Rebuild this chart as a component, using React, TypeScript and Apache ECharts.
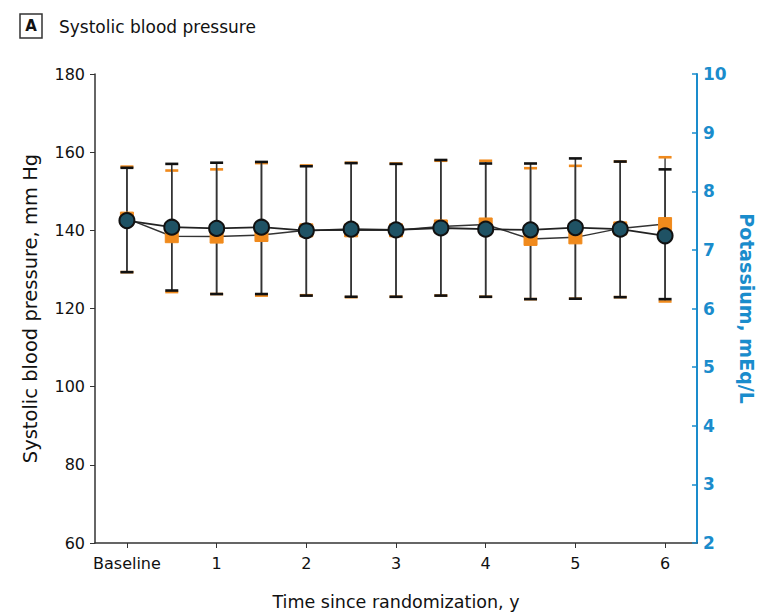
import React, { useEffect, useRef } from "react";
import * as echarts from "echarts";

const times = [0, 0.5, 1, 1.5, 2, 2.5, 3, 3.5, 4, 4.5, 5, 5.5, 6];
const xTickValues = [0, 1, 2, 3, 4, 5, 6];
const xTickLabels = ["Baseline", "1", "2", "3", "4", "5", "6"];

const orangeMean = [143.0, 138.5, 138.4, 138.8, 140.0, 140.0, 140.0, 141.0, 141.5, 137.8, 138.2, 140.5, 141.6];
const orangeUpper = [156.3, 155.3, 155.6, 157.2, 156.6, 157.3, 157.1, 157.8, 157.8, 155.9, 156.5, 157.6, 158.7];
const orangeLower = [129.3, 124.2, 123.7, 123.3, 123.4, 122.9, 123.0, 123.3, 123.0, 122.4, 122.5, 122.9, 121.8];

const blackMean = [142.5, 140.8, 140.5, 140.8, 139.9, 140.3, 140.1, 140.6, 140.3, 140.1, 140.7, 140.3, 138.6];
const blackUpper = [156.0, 157.0, 157.3, 157.5, 156.4, 157.2, 157.0, 158.0, 157.1, 157.1, 158.4, 157.6, 155.6];
const blackLower = [129.3, 124.6, 123.7, 123.7, 123.3, 123.0, 123.0, 123.3, 123.0, 122.4, 122.5, 122.9, 122.4];

const FONT = "'DejaVu Sans', sans-serif";
const ORANGE = "#f08a1c";
const BLUE = "#1a8ccc";

function errorBarSeries(lower: number[], upper: number[], capColor: string, stemColor: string, z: number) {
  return {
    type: "custom",
    z,
    data: times.map((t, i) => [t, lower[i], upper[i]]),
    renderItem: (params: any, api: any) => {
      const x = api.value(0);
      const lo = api.coord([x, api.value(1)]);
      const hi = api.coord([x, api.value(2)]);
      const hw = 6.5;
      return {
        type: "group",
        children: [
          { type: "line", shape: { x1: lo[0], y1: lo[1], x2: hi[0], y2: hi[1] }, style: { stroke: stemColor, lineWidth: 1.6 } },
          { type: "line", shape: { x1: hi[0] - hw, y1: hi[1], x2: hi[0] + hw, y2: hi[1] }, style: { stroke: capColor, lineWidth: 2.6 } },
          { type: "line", shape: { x1: lo[0] - hw, y1: lo[1], x2: lo[0] + hw, y2: lo[1] }, style: { stroke: capColor, lineWidth: 2.6 } },
        ],
      };
    },
  };
}

export default function App() {
  const ref = useRef<HTMLDivElement>(null);
  useEffect(() => {
    document.body.style.margin = "0";
    const chart = echarts.init(ref.current!, null, { renderer: "svg" });
    chart.setOption({
      animation: false,
      backgroundColor: "#ffffff",
      textStyle: { fontFamily: FONT },
      graphic: [
        { type: "rect", shape: { x: 20, y: 14, width: 22, height: 24 }, style: { fill: "#fff", stroke: "#333", lineWidth: 1.5 } },
        { type: "text", x: 31, y: 26, style: { text: "A", font: `bold 15px ${FONT}`, fill: "#111", align: "center", verticalAlign: "middle" } },
        { type: "text", x: 59, y: 27, style: { text: "Systolic blood pressure", font: `17px ${FONT}`, fill: "#111", verticalAlign: "middle" } },
      ],
      grid: { left: 95, right: 69, top: 74, bottom: 73 },
      xAxis: {
        type: "value",
        min: -0.356,
        max: 6.356,
        name: "Time since randomization, y",
        nameLocation: "middle",
        nameGap: 50,
        nameTextStyle: { fontSize: 17.5, color: "#111", fontFamily: FONT },
        axisLine: { onZero: false, lineStyle: { color: "#333", width: 1.5 } },
        axisTick: { show: true, customValues: xTickValues, length: 5, lineStyle: { color: "#333" } },
        axisLabel: {
          customValues: xTickValues,
          formatter: (v: number) => xTickLabels[xTickValues.indexOf(Math.round(v))] ?? "",
          fontSize: 16,
          color: "#111",
          margin: 12,
          fontFamily: FONT,
        },
        splitLine: { show: false },
      },
      yAxis: [
        {
          type: "value",
          min: 60,
          max: 180,
          interval: 20,
          name: "Systolic blood pressure, mm Hg",
          nameLocation: "middle",
          nameGap: 55,
          nameTextStyle: { fontSize: 19.5, color: "#111", fontFamily: FONT },
          axisLine: { show: true, onZero: false, lineStyle: { color: "#333", width: 1.5 } },
          axisTick: { show: true, length: 5, lineStyle: { color: "#333" } },
          axisLabel: { fontSize: 16, color: "#111", margin: 10, fontFamily: FONT },
          splitLine: { show: false },
        },
        {
          type: "value",
          position: "right",
          min: 2,
          max: 10,
          interval: 1,
          name: "Potassium, mEq/L",
          nameLocation: "middle",
          nameRotate: -90,
          nameGap: 36,
          nameTextStyle: { fontSize: 19, fontWeight: "bold", color: BLUE, fontFamily: FONT },
          axisLine: { show: true, onZero: false, lineStyle: { color: BLUE, width: 2 } },
          axisTick: { show: true, inside: true, length: 5, lineStyle: { color: BLUE, width: 1.5 } },
          axisLabel: { fontSize: 17, fontWeight: "bold", color: BLUE, margin: 6, fontFamily: FONT },
          splitLine: { show: false },
        },
      ],
      series: [
        errorBarSeries(orangeLower, orangeUpper, ORANGE, "#555", 1),
        errorBarSeries(blackLower, blackUpper, "#111", "#333", 2),
        {
          type: "line",
          z: 3,
          data: times.map((t, i) => [t, orangeMean[i]]),
          symbol: "rect",
          symbolSize: 13,
          itemStyle: { color: ORANGE, borderColor: ORANGE },
          lineStyle: { color: "#333", width: 1.5 },
        },
        {
          type: "line",
          z: 4,
          data: times.map((t, i) => [t, blackMean[i]]),
          symbol: "circle",
          symbolSize: 15,
          itemStyle: { color: "#1f5264", borderColor: "#111", borderWidth: 2 },
          lineStyle: { color: "#222", width: 1.8 },
        },
      ],
    });
    return () => chart.dispose();
  }, []);
  return <div ref={ref} style={{ width: 766, height: 616 }} />;
}
